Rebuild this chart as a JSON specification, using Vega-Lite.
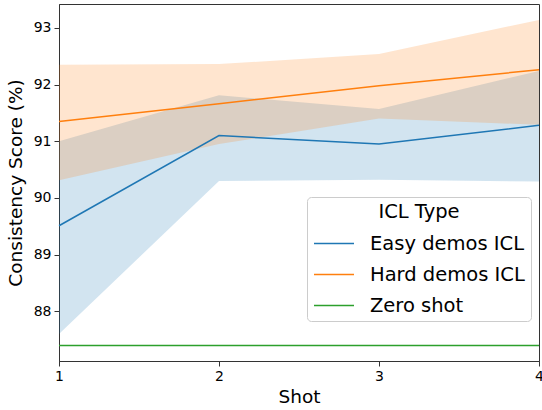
{
  "$schema": "https://vega.github.io/schema/vega-lite/v6.json",
  "width": 480,
  "height": 357,
  "autosize": {"type": "none"},
  "padding": {"left": 59, "top": 4, "right": 3, "bottom": 49},
  "config": {
    "font": "DejaVu Sans",
    "view": {"stroke": "#333333", "strokeWidth": 1},
    "axis": {
      "grid": false,
      "domainColor": "#333333",
      "domainWidth": 1,
      "tickColor": "#333333",
      "tickSize": 5,
      "labelFontSize": 14,
      "labelColor": "#000000",
      "labelFlush": false,
      "titleFontSize": 18.5,
      "titleFontWeight": "normal",
      "titleColor": "#000000",
      "labelPadding": 3
    }
  },
  "data": {
    "values": [
      {"type": "Easy demos ICL", "shot": 1, "score": 89.51, "lo": 87.60, "hi": 91.00},
      {"type": "Easy demos ICL", "shot": 2, "score": 91.10, "lo": 90.30, "hi": 91.81},
      {"type": "Easy demos ICL", "shot": 3, "score": 90.95, "lo": 90.32, "hi": 91.57},
      {"type": "Easy demos ICL", "shot": 4, "score": 91.28, "lo": 90.29, "hi": 92.24},
      {"type": "Hard demos ICL", "shot": 1, "score": 91.35, "lo": 90.31, "hi": 92.35},
      {"type": "Hard demos ICL", "shot": 2, "score": 91.66, "lo": 90.95, "hi": 92.36},
      {"type": "Hard demos ICL", "shot": 3, "score": 91.98, "lo": 91.40, "hi": 92.54},
      {"type": "Hard demos ICL", "shot": 4, "score": 92.26, "lo": 91.29, "hi": 93.14},
      {"type": "Zero shot", "shot": 1, "score": 87.40, "lo": 87.40, "hi": 87.40},
      {"type": "Zero shot", "shot": 2, "score": 87.40, "lo": 87.40, "hi": 87.40},
      {"type": "Zero shot", "shot": 3, "score": 87.40, "lo": 87.40, "hi": 87.40},
      {"type": "Zero shot", "shot": 4, "score": 87.40, "lo": 87.40, "hi": 87.40}
    ]
  },
  "encoding": {
    "x": {
      "field": "shot",
      "type": "quantitative",
      "scale": {"domain": [1, 4], "nice": false, "zero": false},
      "axis": {"values": [1, 2, 3, 4], "format": "d", "title": "Shot", "titlePadding": 4}
    },
    "color": {
      "field": "type",
      "type": "nominal",
      "scale": {
        "domain": ["Easy demos ICL", "Hard demos ICL", "Zero shot"],
        "range": ["#1f77b4", "#ff7f0e", "#2ca02c"]
      },
      "legend": {
        "title": "ICL Type",
        "orient": "none",
        "legendX": 248,
        "legendY": 193,
        "direction": "vertical",
        "titleFontSize": 19.5,
        "titleFontWeight": "normal",
        "titleColor": "#000000",
        "titleAnchor": "middle",
        "titlePadding": 0,
        "labelFontSize": 19.5,
        "labelColor": "#000000",
        "labelOffset": 15,
        "symbolType": "stroke",
        "symbolSize": 1600,
        "symbolStrokeWidth": 1.5,
        "symbolOpacity": 1,
        "rowPadding": -2.5,
        "padding": 6,
        "fillColor": "rgba(255,255,255,0.8)",
        "strokeColor": "#cccccc",
        "cornerRadius": 4
      }
    }
  },
  "layer": [
    {
      "transform": [{"filter": "datum.type !== 'Zero shot'"}],
      "mark": {"type": "area", "opacity": 0.2},
      "encoding": {
        "y": {
          "field": "lo",
          "type": "quantitative",
          "scale": {"domain": [87.125, 93.42], "nice": false, "zero": false},
          "axis": {"values": [88, 89, 90, 91, 92, 93], "format": "d", "title": "Consistency Score (%)", "titlePadding": 8}
        },
        "y2": {"field": "hi"}
      }
    },
    {
      "mark": {"type": "line", "strokeWidth": 1.5},
      "encoding": {
        "y": {
          "field": "score",
          "type": "quantitative"
        }
      }
    }
  ]
}
